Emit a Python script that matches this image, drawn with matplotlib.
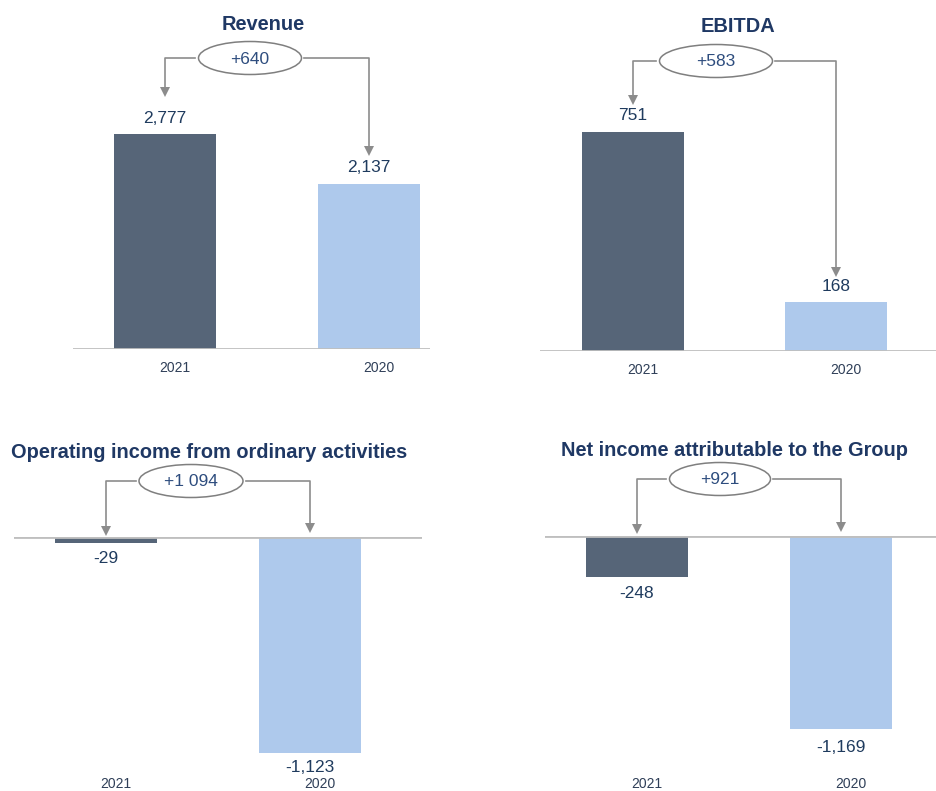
import matplotlib
matplotlib.use('Agg')
import matplotlib.pyplot as plt
from matplotlib.patches import Ellipse
from matplotlib.lines import Line2D

# ---------------- data ----------------
years = ['2021', '2020']
titles = ['Revenue', 'EBITDA', 'Operating income from ordinary activities',
          'Net income attributable to the Group']
revenue = [2777, 2137]
ebitda = [751, 168]
operating_income = [-29, -1123]
net_income = [-248, -1169]
value_labels = [['2,777', '2,137'], ['751', '168'], ['-29', '-1,123'], ['-248', '-1,169']]
change_labels = ['+640', '+583', '+1 094', '+921']
series = [revenue, ebitda, operating_income, net_income]

# ---------------- layout (pixels, top-left origin) ----------------
W, H = 937, 791
DARK = '#566578'
LIGHT = '#AEC9EC'
NAVY = '#1F3864'
LABEL = '#1F3B5E'
BLUE_TXT = '#2E4D7E'
GREY = '#8C8C8C'
AXIS = '#BFBFBF'

layout = [
    dict(l=73, r=430, c0=165, sp=204, base=349, s=215/2777,
         title=(263, 25), ell=(250, 58, 103, 33), tips=(96, 155), ticky=368,
         neg_off=(17, 17)),
    dict(l=540, r=937, c0=633, sp=203, base=351, s=219/751,
         title=(738, 27), ell=(716, 61, 113, 33), tips=(104, 276), ticky=370,
         neg_off=(17, 17)),
    dict(l=14, r=422, c0=106, sp=204, base=537, s=216/1123,
         title=(209, 452), ell=(191, 481, 104, 33), tips=(535, 532), ticky=784,
         neg_off=(16, 15)),
    dict(l=545, r=937, c0=637, sp=204, base=536, s=193/1169,
         title=(735, 451), ell=(720, 479, 101, 33), tips=(533, 531), ticky=784,
         neg_off=(17, 18)),
]

fig = plt.figure(figsize=(W / 100, H / 100), dpi=100)
fig.patch.set_facecolor('white')

overlay = fig.add_axes([0, 0, 1, 1], zorder=10)
overlay.set_xlim(0, W)
overlay.set_ylim(H, 0)
overlay.axis('off')
overlay.patch.set_alpha(0)

FONT = 'Liberation Sans'

for k, (vals, lay) in enumerate(zip(series, layout)):
    positive = min(vals) >= 0
    if positive:
        top_px, bot_px = lay['base'] - 300, lay['base']
        ylim = (0, (bot_px - top_px) / lay['s'])
    else:
        top_px, bot_px = lay['base'], lay['base'] + 250
        ylim = (-(bot_px - top_px) / lay['s'], 0)
    x0 = -(lay['c0'] - lay['l']) / lay['sp']
    x1 = 1 + (lay['r'] - (lay['c0'] + lay['sp'])) / lay['sp']
    ax = fig.add_axes([lay['l'] / W, 1 - bot_px / H,
                       (lay['r'] - lay['l']) / W, (bot_px - top_px) / H])
    ax.set_xlim(x0, x1)
    ax.set_ylim(*ylim)
    ax.axis('off')
    xs = list(range(len(vals)))
    ax.bar(xs, vals, width=102 / lay['sp'], color=[DARK, LIGHT], zorder=2)
    ax.axhline(0, color=AXIS, lw=2, zorder=3)

    for i, (v, lab) in enumerate(zip(vals, value_labels[k])):
        off = 16 if v >= 0 else -lay['neg_off'][i]
        ax.annotate(lab, (i, v), xytext=(0, off * 0.72), textcoords='offset points',
                    ha='center', va='center', fontsize=12.5, color=LABEL,
                    family=FONT)

    for i, yr in enumerate(years):
        xp = lay['c0'] + i * lay['sp'] + 10
        overlay.text(xp, lay['ticky'], yr, ha='center', va='center',
                     fontsize=10, color='#2F3F58', family=FONT)

    overlay.text(lay['title'][0], lay['title'][1], titles[k], ha='center',
                 va='center', fontsize=14.4, fontweight='bold', color=NAVY,
                 family=FONT)

    ex, ey, ew, eh = lay['ell']
    overlay.add_patch(Ellipse((ex, ey), ew, eh, facecolor='white',
                              edgecolor='#7F7F7F', lw=1.1))
    overlay.text(ex, ey + 1, change_labels[k], ha='center', va='center',
                 fontsize=12.5, color=BLUE_TXT, family=FONT)

    for i, side in enumerate((-1, 1)):
        bx = ax.transData.transform((i, 0))[0]
        start_x = ex + side * (ew / 2 + 3)
        tip = lay['tips'][i]
        overlay.add_line(Line2D([start_x, bx, bx], [ey, ey, tip - 5],
                                color=GREY, lw=1.2))
        overlay.plot([bx], [tip - 4], marker='v', markersize=6.5,
                     color=GREY, markeredgewidth=0)

fig.savefig('out.png', dpi=100, facecolor='white')
